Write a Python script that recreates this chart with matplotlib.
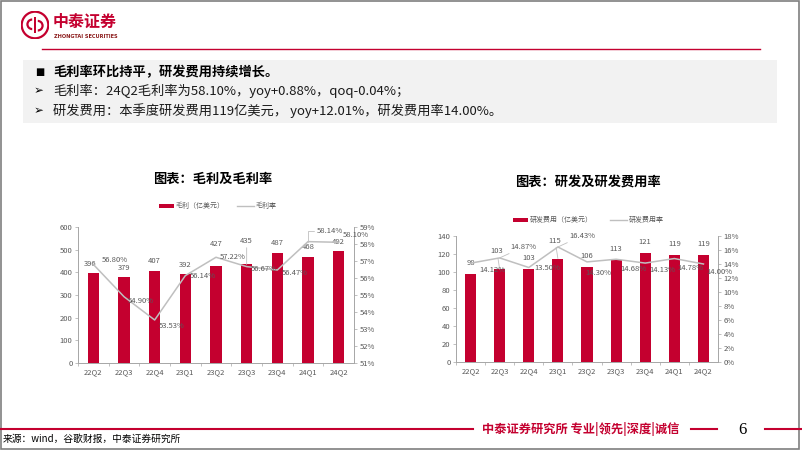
import matplotlib.pyplot as plt
from matplotlib.patches import Rectangle, Circle, Wedge
from matplotlib.lines import Line2D
import numpy as np

plt.rcParams['font.family'] = ['Noto Sans CJK SC', 'DejaVu Sans']

# ---- data ----
quarters = ["22Q2", "22Q3", "22Q4", "23Q1", "23Q2", "23Q3", "23Q4", "24Q1", "24Q2"]
gross_profit = [396, 379, 407, 392, 427, 435, 487, 468, 492]
gross_margin = [56.80, 54.90, 53.53, 56.14, 57.22, 56.67, 56.47, 58.14, 58.10]
rd_expense = [98, 103, 103, 115, 106, 113, 121, 119, 119]
rd_ratio = [14.12, 14.87, 13.50, 16.43, 14.30, 14.68, 14.13, 14.78, 14.00]

W, H = 802, 451
RED = "#C4002F"
GRAY_LINE = "#BFBFBF"
TXT = "#595959"

fig = plt.figure(figsize=(W / 100, H / 100), dpi=100)


def fx(x):
    return x / W


def fy(y):
    return 1 - y / H


# slide frame
fig.patches.append(Rectangle((fx(1), fy(449)), fx(799) - fx(1), fy(1) - fy(449),
                             transform=fig.transFigure, fill=False, ec="#7F7F7F", lw=1.2))

# ---- header ----
lax = fig.add_axes([fx(21), fy(39), fx(28) - fx(0), fy(0) - fy(28)])
lax.set_xlim(-1, 1)
lax.set_ylim(-1, 1)
lax.set_aspect("equal")
lax.axis("off")
lax.add_patch(Circle((0, 0), 0.95, fc="white", ec=RED, lw=1.6))
lax.add_patch(Wedge((-0.2, 0.05), 0.42, 90, 270, width=0.16, fc=RED))
lax.add_patch(Wedge((0.2, -0.05), 0.42, -90, 90, width=0.16, fc=RED))
lax.add_patch(Rectangle((-0.08, -0.6), 0.16, 1.2, fc=RED))

fig.text(fx(53), fy(22), "中泰证券", color=RED, fontsize=11.5, fontweight="bold", va="center")
fig.text(fx(54), fy(36), "ZHONGTAI SECURITIES", color="#8B1A1A", fontsize=3.6,
         fontweight="bold", va="center", family="DejaVu Sans")
fig.lines.append(Line2D([fx(42), fx(760)], [fy(49), fy(49)], transform=fig.transFigure,
                        color=RED, lw=1))

fig.patches.append(Rectangle((fx(23), fy(123)), fx(777) - fx(23), fy(60) - fy(123),
                             transform=fig.transFigure, fc="#F2F2F2", ec="none"))
fig.text(fx(35), fy(72), "■", fontsize=7, va="center", family="DejaVu Sans")
fig.text(fx(53), fy(72), "毛利率环比持平，研发费用持续增长。", fontsize=9.5,
         fontweight="bold", va="center")
fig.text(fx(34), fy(91), "➢", fontsize=8.5, va="center", family="DejaVu Sans")
fig.text(fx(53), fy(91), "毛利率：24Q2毛利率为58.10%，yoy+0.88%，qoq-0.04%；",
         fontsize=9.5, va="center", color="#1a1a1a")
fig.text(fx(34), fy(111), "➢", fontsize=8.5, va="center", family="DejaVu Sans")
fig.text(fx(53), fy(111), "研发费用：本季度研发费用119亿美元， yoy+12.01%，研发费用率14.00%。",
         fontsize=9.5, va="center", color="#1a1a1a")

# ---- footer ----
fig.lines.append(Line2D([0, fx(473)], [fy(429), fy(429)], transform=fig.transFigure, color=RED, lw=1.5))
fig.text(fx(482), fy(429), "中泰证券研究所 专业|领先|深度|诚信", color=RED, fontsize=8.8,
         fontweight="bold", va="center")
fig.lines.append(Line2D([fx(691), fx(717)], [fy(429), fy(429)], transform=fig.transFigure, color=RED, lw=1.5))
fig.text(fx(742), fy(430), "6", fontsize=12, va="center", ha="center", family="Liberation Serif")
fig.lines.append(Line2D([fx(765), 1], [fy(429), fy(429)], transform=fig.transFigure, color=RED, lw=1.5))
fig.text(fx(3), fy(439), "来源：wind，谷歌财报，中泰证券研究所", fontsize=7, va="center")


def style_axes(ax, ax2):
    for a in (ax, ax2):
        a.spines["top"].set_visible(False)
        for s in ("left", "right", "bottom"):
            a.spines[s].set_color("#A6A6A6")
            a.spines[s].set_linewidth(0.6)
        a.tick_params(labelsize=5.5, colors=TXT, length=2, width=0.5, pad=2)
        a.tick_params(axis="y", color="#A6A6A6")
    ax.tick_params(axis="x", length=0, pad=4)
    ax.set_xticks(np.arange(len(quarters)) - 0.5, minor=True)
    ax.tick_params(axis="x", which="minor", length=2, color="#A6A6A6", width=0.5)


def leader(ax, xy, xytext, text):
    ax.annotate(text, xy=xy, xytext=xytext, textcoords="offset points", fontsize=5.5,
                color=TXT, ha="center", va="bottom",
                arrowprops=dict(arrowstyle="-", color=GRAY_LINE, lw=0.6, shrinkA=0, shrinkB=0))


x = np.arange(len(quarters))

# ---- chart 1: gross profit ----
fig.text(fx(213), fy(179), "图表：毛利及毛利率", fontsize=9.5, fontweight="bold", ha="center", va="center")
ax1 = fig.add_axes([fx(78), fy(363), fx(354) - fx(78), fy(227) - fy(363)])
ax1b = ax1.twinx()
ax1.bar(x, gross_profit, width=0.38, color=RED, zorder=2)
ax1b.plot(x, gross_margin, color=GRAY_LINE, lw=1.1)
ax1.set_ylim(0, 600)
ax1.set_yticks(range(0, 601, 100))
ax1b.set_ylim(51, 59)
ax1b.set_yticks(range(51, 60))
ax1b.set_yticklabels([f"{v}%" for v in range(51, 60)])
ax1.set_xlim(-0.5, len(quarters) - 0.5)
ax1.set_xticks(x)
ax1.set_xticklabels(quarters)
style_axes(ax1, ax1b)

bar1_dy = [2, 2, 2, 2, 11, 14, 2, 2, 2]
for i, v in enumerate(gross_profit):
    if i == 5:
        leader(ax1, (i, v), (0, bar1_dy[i]), str(v))
    else:
        ax1.annotate(str(v), (i, v), xytext=(-2 if i == 0 else 0, bar1_dy[i] + 2),
                     textcoords="offset points", ha="center", va="bottom", fontsize=5.5, color=TXT)
gm_off = [(6, 3), (3, -3), (3, -4), (3, 0), (3, 0), (3, -2), (3, -2), (5, 5), (3, 5)]
for i, v in enumerate(gross_margin):
    dx, dy = gm_off[i]
    if i == 7:
        ax1b.annotate(f"{v:.2f}%", (i, v), xytext=(dx + 1, 8), textcoords="offset points",
                      ha="left", va="center", fontsize=5.5, color=TXT,
                      arrowprops=dict(arrowstyle="-", color=GRAY_LINE, lw=0.6, shrinkA=0, shrinkB=0,
                                      connectionstyle="angle,angleA=0,angleB=90,rad=0"))
    else:
        ax1b.annotate(f"{v:.2f}%", (i, v), xytext=(dx, dy), textcoords="offset points",
                      ha="left", va="center", fontsize=5.5, color=TXT)

fig.patches.append(Rectangle((fx(159), fy(208)), fx(15) - fx(0), fy(0) - fy(4),
                             transform=fig.transFigure, fc=RED, ec="none"))
fig.text(fx(176), fy(206), "毛利（亿美元）", fontsize=5, color=TXT, va="center")
fig.lines.append(Line2D([fx(237), fx(254)], [fy(206), fy(206)], transform=fig.transFigure,
                        color=GRAY_LINE, lw=1))
fig.text(fx(256), fy(206), "毛利率", fontsize=5, color=TXT, va="center")

# ---- chart 2: R&D ----
fig.text(fx(588), fy(182), "图表：研发及研发费用率", fontsize=9.5, fontweight="bold", ha="center", va="center")
ax2 = fig.add_axes([fx(456), fy(362), fx(718) - fx(456), fy(236) - fy(362)])
ax2b = ax2.twinx()
ax2.bar(x, rd_expense, width=0.38, color=RED, zorder=2)
ax2b.plot(x, rd_ratio, color=GRAY_LINE, lw=1.1)
ax2.set_ylim(0, 140)
ax2.set_yticks(range(0, 141, 20))
ax2b.set_ylim(0, 18)
ax2b.set_yticks(range(0, 19, 2))
ax2b.set_yticklabels([f"{v}%" for v in range(0, 19, 2)])
ax2.set_xlim(-0.5, len(quarters) - 0.5)
ax2.set_xticks(x)
ax2.set_xticklabels(quarters)
style_axes(ax2, ax2b)

for i, v in enumerate(rd_expense):
    if i in (1, 3):
        leader(ax2, (i, v), (-2, 10), str(v))
    else:
        ax2.annotate(str(v), (i, v), xytext=(0, 5), textcoords="offset points",
                     ha="center", va="bottom", fontsize=5.5, color=TXT)
rd_off = [(6, -5), (0, 0), (4, 0), (0, 0), (-1, -8), (3, -7), (3, -5), (2, -7), (2, -6)]
for i, v in enumerate(rd_ratio):
    dx, dy = rd_off[i]
    if i in (1, 3):
        ax2b.annotate(f"{v:.2f}%", (i, v), xytext=(8, 8), textcoords="offset points",
                      ha="left", va="center", fontsize=5.5, color=TXT,
                      arrowprops=dict(arrowstyle="-", color=GRAY_LINE, lw=0.6, shrinkA=0, shrinkB=0))
    else:
        ax2b.annotate(f"{v:.2f}%", (i, v), xytext=(dx, dy), textcoords="offset points",
                      ha="left", va="center", fontsize=5.5, color=TXT)

fig.patches.append(Rectangle((fx(513), fy(222)), fx(15) - fx(0), fy(0) - fy(4),
                             transform=fig.transFigure, fc=RED, ec="none"))
fig.text(fx(530), fy(220), "研发费用（亿美元）", fontsize=5, color=TXT, va="center")
fig.lines.append(Line2D([fx(610), fx(627)], [fy(220), fy(220)], transform=fig.transFigure,
                        color=GRAY_LINE, lw=1))
fig.text(fx(629), fy(220), "研发费用率", fontsize=5, color=TXT, va="center")

fig.savefig("out.png", dpi=100)
